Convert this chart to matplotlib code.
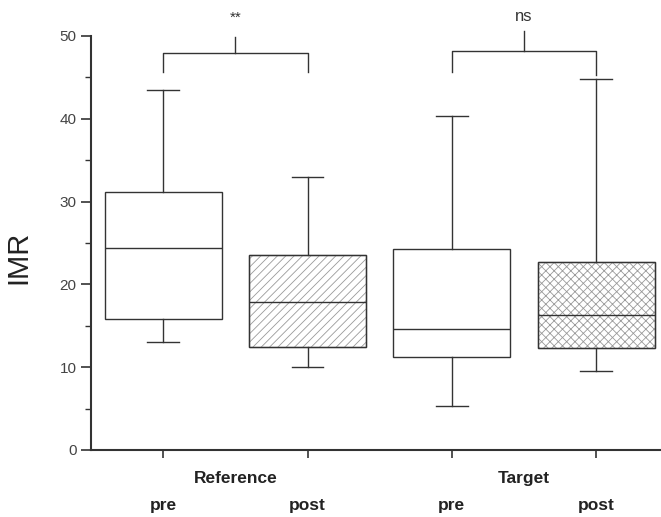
import matplotlib
matplotlib.use("Agg")
import matplotlib.pyplot as plt
from matplotlib.patches import PathPatch
import numpy as np

groups = ["Reference", "Target"]
conditions = ["pre", "post", "pre", "post"]
whisker_low = [13.0, 10.0, 5.3, 9.5]
q1 = [15.8, 12.4, 11.2, 12.3]
medians = [24.4, 17.9, 14.6, 16.3]
q3 = [31.2, 23.5, 24.3, 22.7]
whisker_high = [43.5, 33.0, 40.3, 44.8]
hatches = ["", "////", "", "xxxx"]
sig_labels = ["**", "ns"]

plt.rcParams['hatch.linewidth'] = 0.6
plt.rcParams['font.family'] = ['Liberation Sans', 'DejaVu Sans']
line_c = "#333333"
hatch_c = "#9a9a9a"

fig = plt.figure(figsize=(6.61, 5.17), dpi=100)
ax = fig.add_axes([0.138, 0.1296, 0.862, 0.8008])

stats = []
for i in range(4):
    stats.append(dict(med=medians[i], q1=q1[i], q3=q3[i],
                      whislo=whisker_low[i], whishi=whisker_high[i], fliers=[]))
positions = [1, 2, 3, 4]
bp = ax.bxp(stats, positions=positions, widths=0.81, patch_artist=True,
            showfliers=False,
            boxprops=dict(edgecolor=line_c, linewidth=1.0, facecolor="white"),
            medianprops=dict(color=line_c, linewidth=1.0),
            whiskerprops=dict(color=line_c, linewidth=1.0),
            capprops=dict(color=line_c, linewidth=1.0),
            capwidths=0.22)
for patch, h in zip(bp['boxes'], hatches):
    if h:
        patch.set_hatch(h)
        patch.set_edgecolor(hatch_c)
        outline = PathPatch(patch.get_path(), transform=patch.get_transform(),
                            facecolor='none', edgecolor=line_c, linewidth=1.0,
                            zorder=patch.get_zorder() + 0.1)
        ax.add_patch(outline)

ax.set_xlim(0.5, 4.45)
ax.set_ylim(0, 50)
ax.spines['top'].set_visible(False)
ax.spines['right'].set_visible(False)
for s in ['left', 'bottom']:
    ax.spines[s].set_linewidth(1.5)
    ax.spines[s].set_color(line_c)
ax.set_yticks([0, 10, 20, 30, 40, 50])
ax.set_yticks([5, 15, 25, 35, 45], minor=True)
ax.tick_params(axis='y', which='major', length=7, width=1.2, labelsize=11,
               labelcolor="#444444", color=line_c, direction='out')
ax.tick_params(axis='y', which='minor', length=4, width=1.0, color=line_c)
ax.set_xticks(positions)
ax.set_xticklabels([])
ax.tick_params(axis='x', length=6, width=1.2, color=line_c)

ax.set_ylabel("IMR", fontsize=21, color="#222222")
ax.yaxis.set_label_coords(-0.103, 0.466)

# x labels
for gi, g in enumerate(groups):
    ax.text(1.5 + 2 * gi, -3.5, g, ha='center', va='center', fontsize=12.5,
            fontweight='bold', color="#222222", clip_on=False)
for p, c in zip(positions, conditions):
    ax.text(p, -6.7, c, ha='center', va='center', fontsize=12.5,
            fontweight='bold', color="#222222", clip_on=False)

# significance brackets
bracket_y = [48.0, 48.2]
leg_y = [[45.7, 45.7], [45.7, 45.3]]
top_y = [49.9, 50.6]
for gi in range(2):
    x1, x2 = positions[2 * gi], positions[2 * gi + 1]
    y = bracket_y[gi]
    ax.plot([x1, x1, x2, x2], [leg_y[gi][0], y, y, leg_y[gi][1]],
            color=line_c, lw=1.0, clip_on=False)
    xm = (x1 + x2) / 2
    ax.plot([xm, xm], [y, top_y[gi]], color=line_c, lw=1.0, clip_on=False)
    fs = 11 if sig_labels[gi] == "**" else 12
    yy = 52.2 if sig_labels[gi] == "**" else 52.4
    ax.text(xm, yy, sig_labels[gi], ha='center', va='center', fontsize=fs,
            color="#333333", clip_on=False)

fig.savefig("out.png", dpi=100)
